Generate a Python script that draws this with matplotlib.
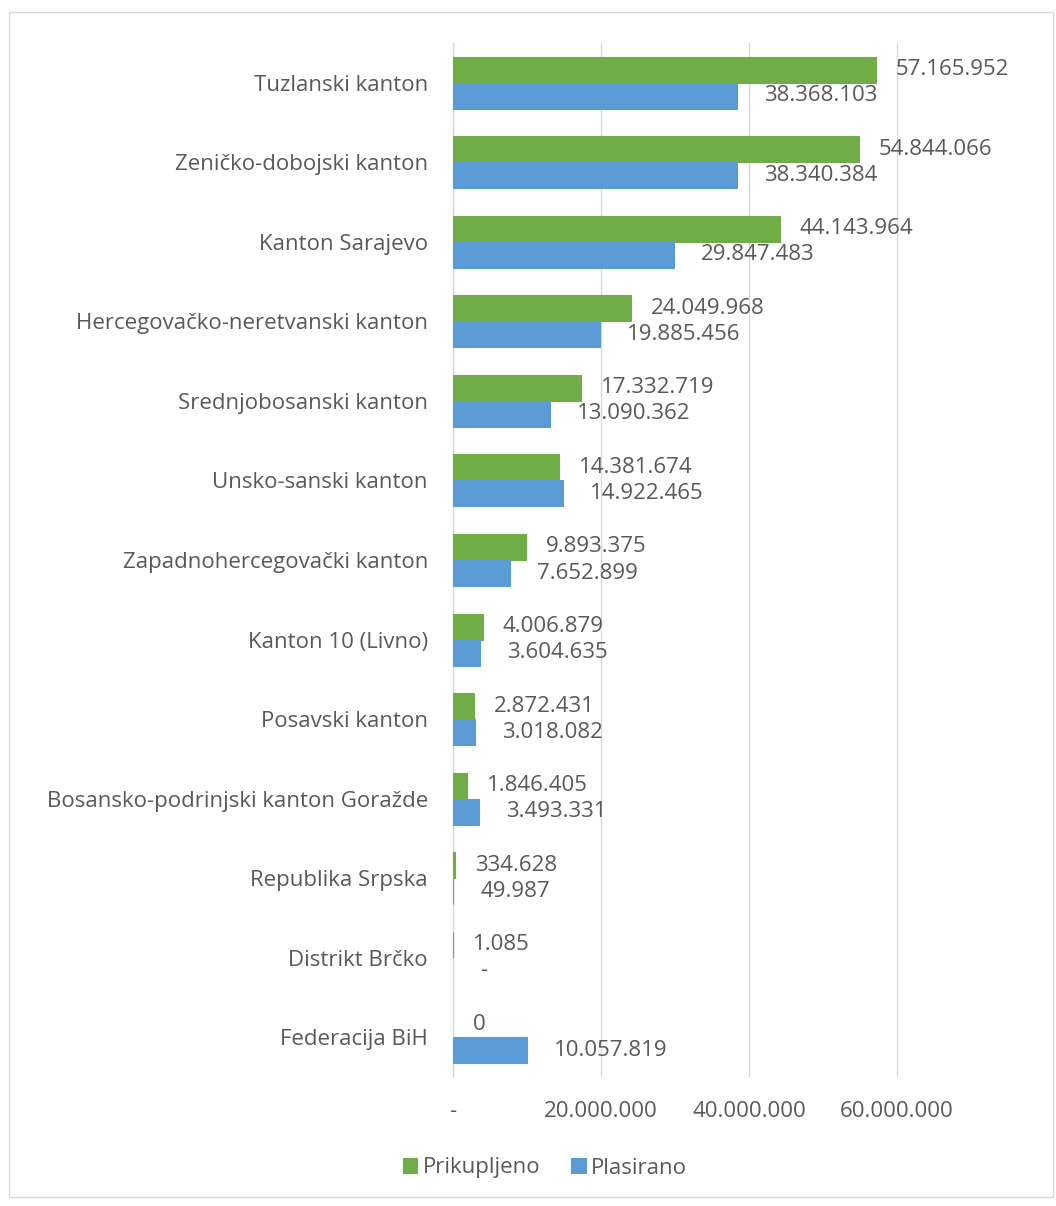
import matplotlib
matplotlib.use("Agg")
import matplotlib.pyplot as plt
from matplotlib.patches import Rectangle
import numpy as np

# Data
categories = [
    "Tuzlanski kanton",
    "Zeničko-dobojski kanton",
    "Kanton Sarajevo",
    "Hercegovačko-neretvanski kanton",
    "Srednjobosanski kanton",
    "Unsko-sanski kanton",
    "Zapadnohercegovački kanton",
    "Kanton 10 (Livno)",
    "Posavski kanton",
    "Bosansko-podrinjski kanton Goražde",
    "Republika Srpska",
    "Distrikt Brčko",
    "Federacija BiH",
]
prikupljeno = [57165952, 54844066, 44143964, 24049968, 17332719, 14381674,
               9893375, 4006879, 2872431, 1846405, 334628, 1085, 0]
plasirano = [38368103, 38340384, 29847483, 19885456, 13090362, 14922465,
             7652899, 3604635, 3018082, 3493331, 49987, 0, 10057819]
x_ticks = [0, 20000000, 40000000, 60000000]

GREEN = "#70AD47"
BLUE = "#5B9BD5"
TEXT = "#595959"
GRID = "#D9D9D9"

plt.rcParams["font.family"] = ["Open Sans", "DejaVu Sans"]
plt.rcParams["font.size"] = 16


def fmt(v, zero_text):
    if v == 0:
        return zero_text
    return f"{v:,}".replace(",", ".")


W, H = 1056, 1206
fig = plt.figure(figsize=(W / 100, H / 100), dpi=100)
ax = fig.add_axes([453 / W, 1 - 1077 / H, (1045 - 453) / W, (1077 - 43) / H])

y = np.arange(len(categories))
bh = 0.327
# thin edge so that tiny (non-zero) bars still show as a hairline, like Excel does
ax.barh(y - bh / 2, prikupljeno, height=bh, color=GREEN, edgecolor=GREEN,
        linewidth=[0.8 if v > 0 else 0 for v in prikupljeno],
        label="Prikupljeno", zorder=3)
ax.barh(y + bh / 2, plasirano, height=bh, color=BLUE, edgecolor=BLUE,
        linewidth=[0.8 if v > 0 else 0 for v in plasirano],
        label="Plasirano", zorder=3)

# value labels just outside the bar ends
for i in range(len(categories)):
    ax.annotate(fmt(prikupljeno[i], "0"), (prikupljeno[i], y[i] - bh / 2),
                xytext=(14.4, 0), textcoords="offset points",
                ha="left", va="center", color=TEXT, fontsize=16)
    ax.annotate(fmt(plasirano[i], "-"), (plasirano[i], y[i] + bh / 2),
                xytext=(19.4, 0), textcoords="offset points",
                ha="left", va="center", color=TEXT, fontsize=16)

ax.set_ylim(len(categories) - 0.5, -0.5)
ax.set_yticks(y)
ax.set_yticklabels(categories, color=TEXT)
ax.set_xlim(0, 80000000)
ax.set_xticks(x_ticks)
ax.set_xticklabels([fmt(v, "-") for v in x_ticks], color=TEXT)
ax.tick_params(axis="y", length=0, pad=18)
ax.tick_params(axis="x", length=0, pad=17)

ax.grid(axis="x", color=GRID, linewidth=1, zorder=0)
for s in ["top", "right", "bottom"]:
    ax.spines[s].set_visible(False)
ax.spines["left"].set_color(GRID)
ax.spines["left"].set_linewidth(1)

leg = fig.legend(loc="center", bbox_to_anchor=(545 / W, 1 - 1168 / H), ncol=2,
                 frameon=False, handlelength=0.65, handleheight=0.65,
                 handletextpad=0.25, columnspacing=1.4, fontsize=16)
for t in leg.get_texts():
    t.set_color(TEXT)

# light chart border
fig.patches.append(Rectangle((9 / W, 9 / H), (1053 - 9) / W, (1194 - 9) / H,
                             transform=fig.transFigure, fill=False,
                             edgecolor=GRID, linewidth=1))

fig.savefig("out.png", dpi=100, facecolor="white")
